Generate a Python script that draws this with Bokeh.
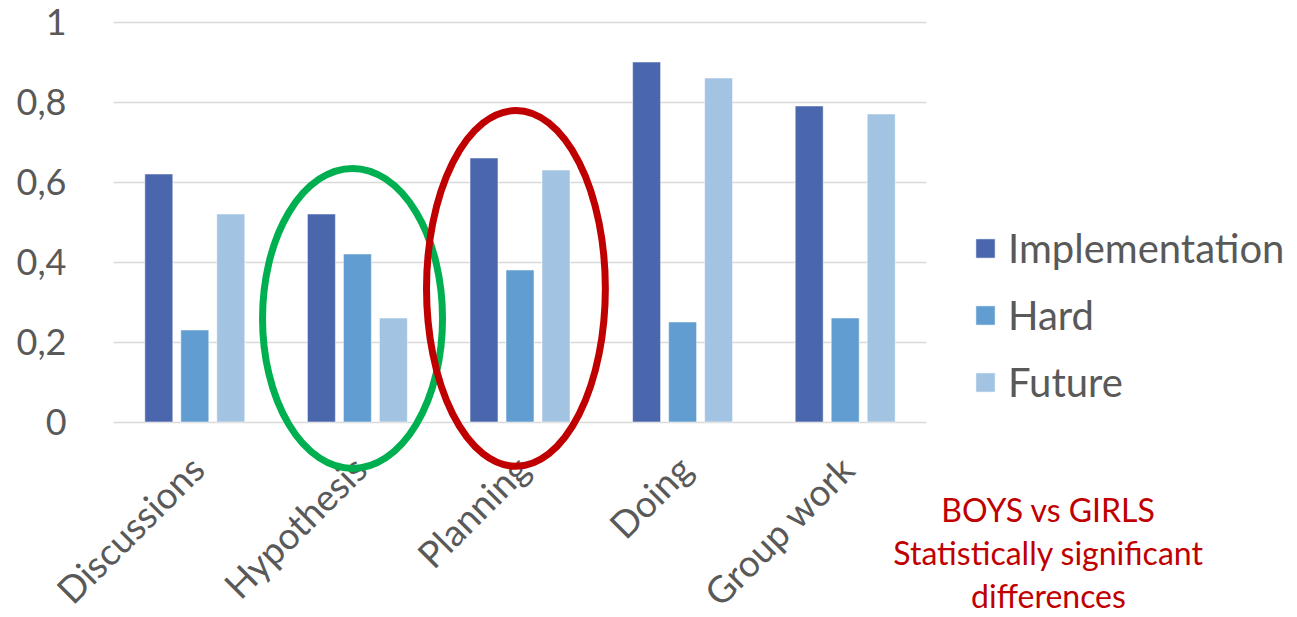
from math import pi

from bokeh.core.properties import value
from bokeh.embed import file_html
from bokeh.models import (ColumnDataSource, CustomJSTickFormatter, FixedTicker, Grid,
                          Label, Legend, LegendItem, Range1d)
from bokeh.plotting import figure
from bokeh.resources import INLINE
from bokeh.transform import dodge

# ---- data -------------------------------------------------------------
categories = ["Discussions", "Hypothesis", "Planning", "Doing", "Group work"]
implementation = [0.62, 0.52, 0.66, 0.90, 0.79]
hard = [0.23, 0.42, 0.38, 0.25, 0.26]
future = [0.52, 0.26, 0.63, 0.86, 0.77]
series_names = ["Implementation", "Hard", "Future"]
y_ticks = [0, 0.2, 0.4, 0.6, 0.8, 1.0]
note_lines = ["BOYS vs GIRLS", "Statistically significant", "differences"]

# highlighted groups: (category, shift, centre y, width, height, colour)
highlights = [
    ("Hypothesis", -0.03, 0.259, 1.107, 0.75, "#00B050"),
    ("Planning", -0.025, 0.334, 1.10, 0.89, "#C00000"),
]

colors = ["#4A66AC", "#629DD1", "#A2C4E2"]
FONT = "Lato"
GREY = "#595959"

# category slots sit at 0.5, 1.5, ... on the x scale
slot = [i + 0.5 for i in range(len(categories))]
n_cat = len(categories)

source = ColumnDataSource(dict(x=slot, cat=categories, Implementation=implementation,
                               Hard=hard, Future=future))

p = figure(width=1297, height=617,
           x_range=Range1d(-0.695, 7.2817), y_range=Range1d(-0.48875, 1.05375),
           output_backend="svg", toolbar_location=None, x_axis_location=None,
           min_border_left=0, min_border_right=0,
           min_border_top=0, min_border_bottom=0)
p.outline_line_color = None
p.background_fill_color = "white"
p.border_fill_color = "white"

# ---- grid ---------------------------------------------------------------
p.xgrid.visible = False
grid = p.ygrid[0]
grid.ticker = FixedTicker(ticks=y_ticks)
if "cross_bounds" in Grid.properties():
    grid.cross_bounds = (0, n_cat)
    grid.grid_line_color = "#D9D9D9"
    grid.grid_line_width = 1.5
else:
    grid.visible = False
    p.segment(x0=[0] * len(y_ticks), x1=[n_cat] * len(y_ticks), y0=y_ticks, y1=y_ticks,
              line_color="#D9D9D9", line_width=1.5)

# ---- bars ---------------------------------------------------------------
offsets = [-0.2214, 0.0, 0.2214]
renderers = []
for name, off, col in zip(series_names, offsets, colors):
    r = p.vbar(x=dodge("x", off), top=name, bottom=0, width=0.172, source=source,
               fill_color=col, line_color="white", line_alpha=0.5, line_width=1)
    renderers.append(r)

# ---- y axis ---------------------------------------------------------------
yaxis = p.yaxis[0]
yaxis.fixed_location = 0
yaxis.ticker = FixedTicker(ticks=y_ticks)
yaxis.formatter = CustomJSTickFormatter(code="return tick.toString().replace('.', ',');")
yaxis.axis_line_color = None
yaxis.major_tick_line_color = None
yaxis.minor_tick_line_color = None
yaxis.major_label_standoff = 41
yaxis.major_label_text_font = FONT
yaxis.major_label_text_font_size = "36px"
yaxis.major_label_text_color = GREY

# ---- category labels (rotated, under the baseline) ------------------------
p.text(x="x", y=-0.06, text="cat", source=source, angle=pi / 4, x_offset=-14,
       text_align="right", text_baseline="top", text_font=value(FONT),
       text_font_size="37px", text_color=GREY)

# ---- highlight ellipses ---------------------------------------------------
for cat, shift, cy, w, h, col in highlights:
    cx = slot[categories.index(cat)] + shift
    p.ellipse(x=[cx], y=[cy], width=w, height=h, fill_color=None,
              line_color=col, line_width=7)

# ---- legend ----------------------------------------------------------------
legend = Legend(items=[LegendItem(label=n, renderers=[r])
                       for n, r in zip(series_names, renderers)],
                location=(973, 209), orientation="vertical",
                padding=0, margin=0, spacing=15, border_line_color=None,
                background_fill_alpha=0, glyph_width=24, glyph_height=24,
                label_height=52, label_standoff=11,
                label_text_font=FONT, label_text_font_size="40px",
                label_text_color=GREY)
p.add_layout(legend, "center")

# ---- note --------------------------------------------------------------------
for i, line in enumerate(note_lines):
    p.add_layout(Label(x=1048, y=108 - 43 * i, x_units="screen", y_units="screen",
                       text=line, text_align="center", text_baseline="alphabetic",
                       text_font=FONT, text_font_size="32px", text_color="#C00000"))

open("out.html", "w").write(file_html(p, INLINE))
